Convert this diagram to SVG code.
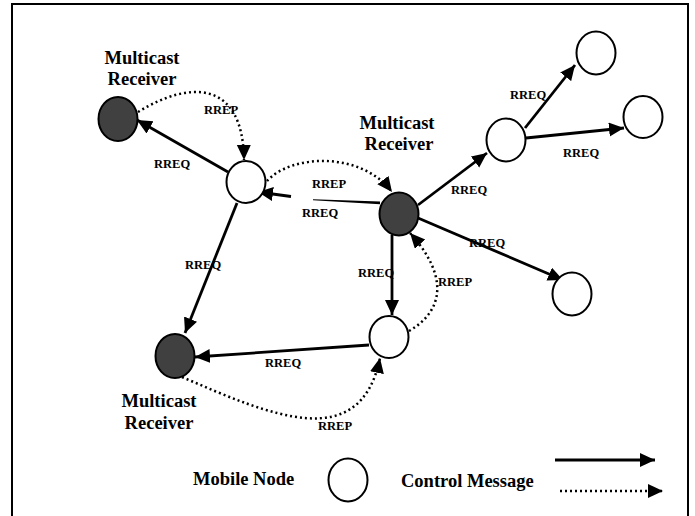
<svg xmlns="http://www.w3.org/2000/svg" width="695" height="516" viewBox="0 0 695 516">
<style>
.node{stroke:#000;stroke-width:2}
.dark{fill:#404040}
.light{fill:#fff}
.big{font-family:"Liberation Serif",serif;font-weight:bold;font-size:18.5px;fill:#000}
.lbl{font-family:"Liberation Serif",serif;font-weight:bold;font-size:12.5px;fill:#000}
.solid{stroke:#000;stroke-width:2.8;fill:none}
.dot{stroke:#000;stroke-width:2.5;fill:none;stroke-dasharray:2 3}
</style>
<defs>
<marker id="ah" markerUnits="userSpaceOnUse" markerWidth="16" markerHeight="15" refX="15" refY="7" orient="auto">
<path d="M0,0 L15,7 L0,14 z" fill="#000"/>
</marker>
</defs>
<rect x="12" y="4" width="676" height="530" fill="#fff" stroke="#000" stroke-width="2"/>
<g id="connectors">
<line class="solid" x1="228" y1="172" x2="137" y2="120" marker-end="url(#ah)"/>
<path class="dot" d="M138,112 C190,80 243,80 244,160" marker-end="url(#ah)"/>
<polygon points="313,199.2 380,201.5 380,204.3 313,200.2" fill="#000"/>
<line class="solid" x1="291" y1="196.5" x2="258" y2="192" marker-end="url(#ah)"/>
<path class="dot" d="M267,181 C290,155 360,150 392,192" marker-end="url(#ah)"/>
<line class="solid" x1="237" y1="203" x2="185" y2="333" marker-end="url(#ah)"/>
<line class="solid" x1="392" y1="235" x2="392" y2="315" marker-end="url(#ah)"/>
<path class="dot" d="M409,331 C445,310 448,275 410,233" marker-end="url(#ah)"/>
<line class="solid" x1="418" y1="205" x2="487" y2="153" marker-end="url(#ah)"/>
<line class="solid" x1="525" y1="128" x2="575" y2="65" marker-end="url(#ah)"/>
<line class="solid" x1="526" y1="138" x2="624" y2="128" marker-end="url(#ah)"/>
<line class="solid" x1="418" y1="218" x2="563" y2="280" marker-end="url(#ah)"/>
<line class="solid" x1="369" y1="345" x2="195" y2="357" marker-end="url(#ah)"/>
<path class="dot" d="M182,377 C270,415 360,455 380,358" marker-end="url(#ah)"/>
</g>
<g id="n-topleft"><ellipse class="node dark" cx="118" cy="119" rx="19.5" ry="22"/></g>
<g id="n-left"><ellipse class="node light" cx="246" cy="182" rx="19.5" ry="21"/></g>
<g id="n-center"><ellipse class="node dark" cx="399" cy="214" rx="19.5" ry="21.5"/></g>
<g id="n-rightmid"><ellipse class="node light" cx="506" cy="140" rx="19.5" ry="21.5"/></g>
<g id="n-topright"><ellipse class="node light" cx="596" cy="53" rx="19.5" ry="21.5"/></g>
<g id="n-right"><ellipse class="node light" cx="643" cy="117" rx="19.5" ry="21"/></g>
<g id="n-lowright"><ellipse class="node light" cx="572" cy="294" rx="19.5" ry="21.5"/></g>
<g id="n-lowcenter"><ellipse class="node light" cx="389" cy="337" rx="19.5" ry="21"/></g>
<g id="n-bottomleft"><ellipse class="node dark" cx="175" cy="356" rx="19.5" ry="22"/></g>
<g id="labels">
<text class="big" x="142" y="64" text-anchor="middle">Multicast</text>
<text class="big" x="142" y="85" text-anchor="middle">Receiver</text>
<text class="big" x="397" y="129" text-anchor="middle">Multicast</text>
<text class="big" x="399" y="150" text-anchor="middle">Receiver</text>
<text class="big" x="159" y="407" text-anchor="middle">Multicast</text>
<text class="big" x="159" y="429" text-anchor="middle">Receiver</text>
<text class="lbl" x="204" y="114">RREP</text>
<text class="lbl" x="154" y="168">RREQ</text>
<text class="lbl" x="312" y="188">RREP</text>
<text class="lbl" x="302" y="217">RREQ</text>
<text class="lbl" x="185" y="269">RREQ</text>
<text class="lbl" x="358" y="277">RREQ</text>
<text class="lbl" x="438" y="286">RREP</text>
<text class="lbl" x="510" y="99">RREQ</text>
<text class="lbl" x="563" y="157">RREQ</text>
<text class="lbl" x="451" y="194">RREQ</text>
<text class="lbl" x="469" y="247">RREQ</text>
<text class="lbl" x="265" y="367">RREQ</text>
<text class="lbl" x="318" y="430">RREP</text>
</g>
<g id="legend">
<text class="big" x="193" y="485">Mobile Node</text>
<ellipse class="node light" cx="348" cy="480" rx="19.5" ry="21.5"/>
<text class="big" x="401" y="487">Control Message</text>
<line class="solid" x1="555" y1="460" x2="655" y2="460" marker-end="url(#ah)"/>
<line class="dot" x1="560" y1="491" x2="663" y2="491" marker-end="url(#ah)"/>
</g>
</svg>
